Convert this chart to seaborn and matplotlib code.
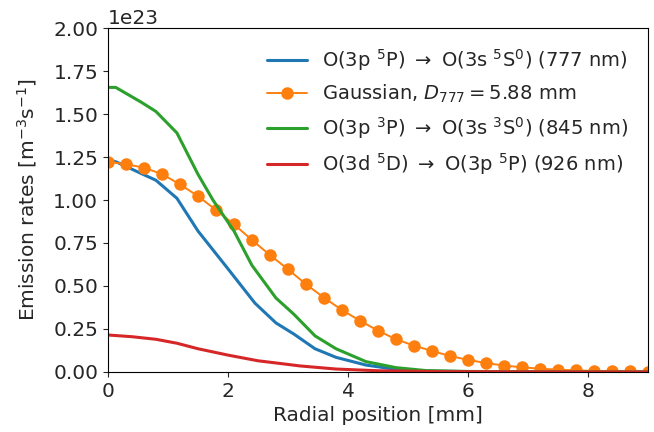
import numpy as np
import pandas as pd
import matplotlib
matplotlib.use("Agg")
import matplotlib.pyplot as plt
import seaborn as sns

SCALE = 1e23

# O(3p 5P) -> O(3s 5S0) (777 nm)
blue_x = [0, 0.15, 0.55, 0.8, 1.15, 1.5, 2.0, 2.45, 2.8, 3.1, 3.45, 3.8, 4.3, 4.8, 5.3, 6.0, 7.0, 8.0, 9.0]
blue_y = [1.237, 1.22, 1.155, 1.115, 1.01, 0.82, 0.60, 0.40, 0.285, 0.22, 0.135, 0.085, 0.04, 0.015, 0.005, 0.002, 0.001, 0.0005, 0.0]

# Gaussian, D777 = 5.88 mm
gauss_x = [0, 0.3, 0.6, 0.9, 1.2, 1.5, 1.8, 2.1, 2.4, 2.7, 3.0, 3.3, 3.6, 3.9, 4.2, 4.5,
           4.8, 5.1, 5.4, 5.7, 6.0, 6.3, 6.6, 6.9, 7.2, 7.5, 7.8, 8.1, 8.4, 8.7, 9.0]
gauss_y = [1.222, 1.209, 1.188, 1.151, 1.091, 1.023, 0.942, 0.859, 0.767, 0.680, 0.597, 0.510,
           0.432, 0.360, 0.298, 0.240, 0.190, 0.153, 0.122, 0.093, 0.070, 0.052, 0.037, 0.027,
           0.019, 0.013, 0.009, 0.006, 0.004, 0.003, 0.002]

# O(3p 3P) -> O(3s 3S0) (845 nm)
green_x = [0, 0.13, 0.55, 0.8, 1.15, 1.5, 1.75, 2.1, 2.4, 2.8, 3.1, 3.45, 3.8, 4.3, 4.8, 5.3, 6.0, 7.0, 8.0, 9.0]
green_y = [1.655, 1.655, 1.57, 1.515, 1.39, 1.15, 1.0, 0.82, 0.62, 0.43, 0.335, 0.21, 0.135, 0.06, 0.025, 0.008, 0.003, 0.001, 0.0005, 0.0]

# O(3d 5D) -> O(3p 5P) (926 nm)
red_x = [0, 0.4, 0.8, 1.15, 1.5, 2.0, 2.5, 2.9, 3.2, 3.8, 4.5, 5.5, 7.0, 9.0]
red_y = [0.215, 0.205, 0.19, 0.167, 0.135, 0.098, 0.065, 0.048, 0.035, 0.017, 0.007, 0.002, 0.0005, 0.0]

labels = [
    r"O(3p $^5$P) $\rightarrow$ O(3s $^5$S$^0$) (777 nm)",
    r"Gaussian, $D_{777} = 5.88$ mm",
    r"O(3p $^3$P) $\rightarrow$ O(3s $^3$S$^0$) (845 nm)",
    r"O(3d $^5$D) $\rightarrow$ O(3p $^5$P) (926 nm)",
]

FS = 14.5
LFS = 14
sns.set_style("ticks")
plt.rcParams["font.family"] = ["DejaVu Sans"]
plt.rcParams["font.size"] = FS

fig = plt.figure(figsize=(6.54, 4.32), dpi=100)
ax = fig.add_axes([0.165, 0.139, 0.826, 0.796])

sns.lineplot(x=blue_x, y=np.array(blue_y) * SCALE, ax=ax, color="#1f77b4", lw=2.2,
             label=labels[0], estimator=None, sort=False)
sns.lineplot(x=gauss_x, y=np.array(gauss_y) * SCALE, ax=ax, color="#ff7f0e", lw=1.4,
             marker="o", markersize=9, markeredgewidth=0, label=labels[1], estimator=None, sort=False)
sns.lineplot(x=green_x, y=np.array(green_y) * SCALE, ax=ax, color="#2ca02c", lw=2.2,
             label=labels[2], estimator=None, sort=False)
sns.lineplot(x=red_x, y=np.array(red_y) * SCALE, ax=ax, color="#d62728", lw=2.2,
             label=labels[3], estimator=None, sort=False)

ax.set_xlim(0, 9)
ax.set_ylim(0, 2e23)
ax.set_yticks(np.arange(0, 2.01, 0.25) * SCALE)
ax.set_xticks([0, 2, 4, 6, 8])
ax.tick_params(labelsize=FS)
ax.yaxis.get_offset_text().set_fontsize(FS)
for s in ax.spines.values():
    s.set_visible(True)
    s.set_color("black")
ax.set_xlabel("Radial position [mm]", fontsize=FS)
ax.set_ylabel(r"Emission rates [m$^{-3}$s$^{-1}$]", fontsize=FS, labelpad=10)
ax.legend(loc="upper right", frameon=False, fontsize=LFS, labelspacing=0.5,
          handlelength=2.05, handletextpad=0.8, borderaxespad=0.6)

fig.savefig("out.png", dpi=100)
